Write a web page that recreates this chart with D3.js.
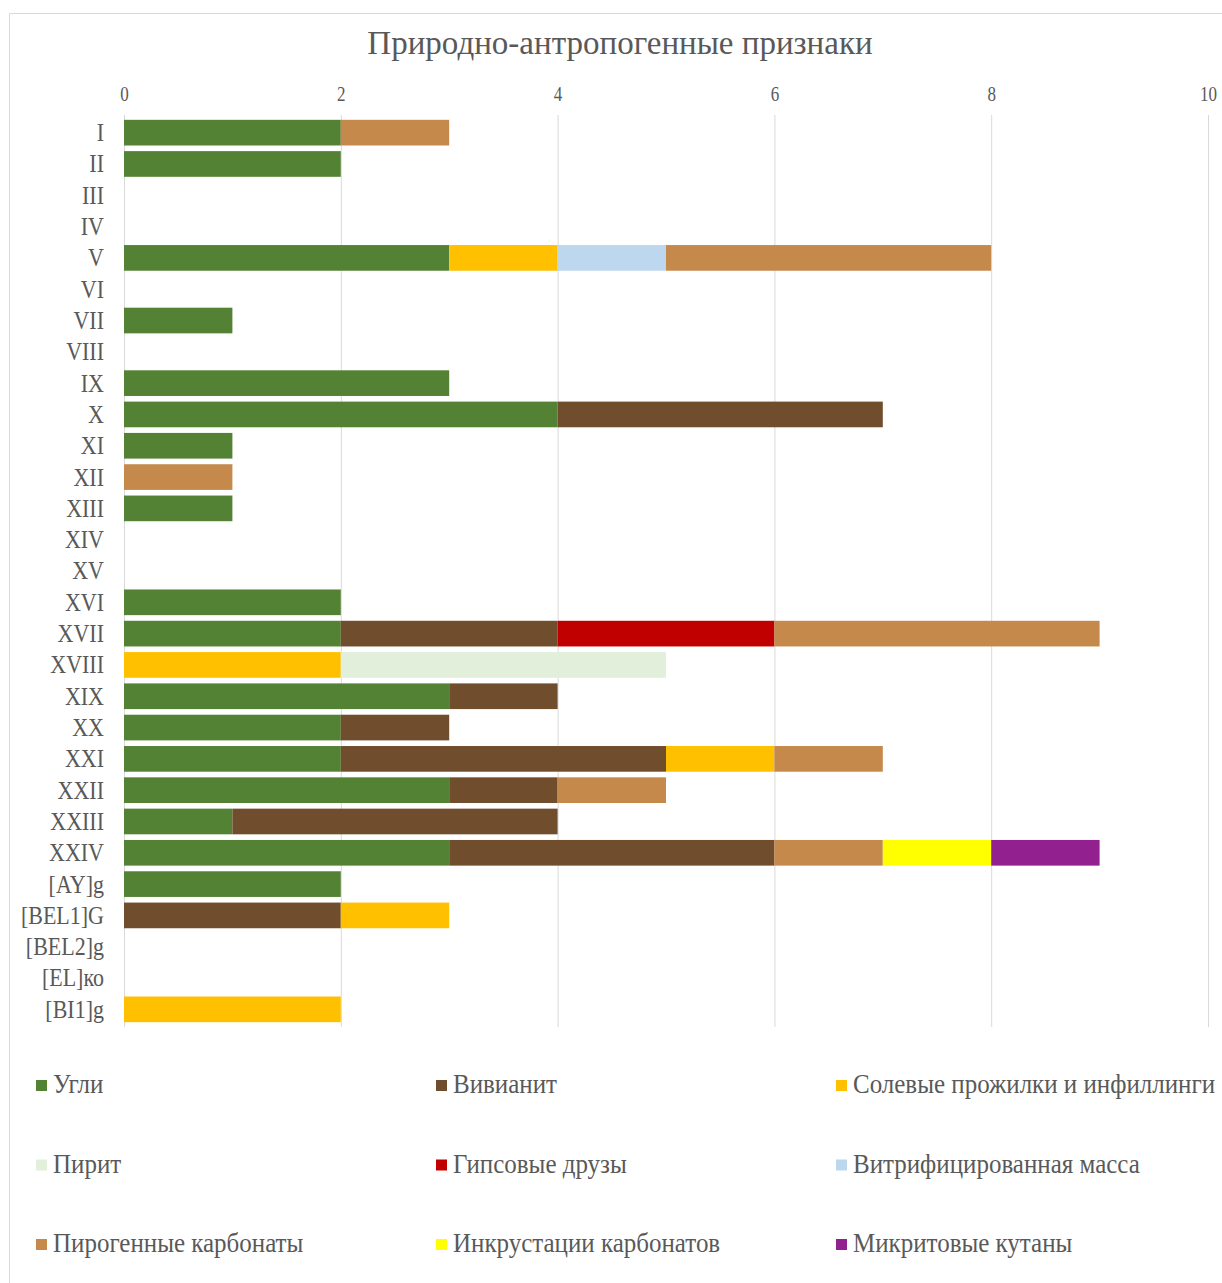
<!DOCTYPE html>
<html>
<head>
<meta charset="utf-8">
<script src="https://cdn.jsdelivr.net/npm/d3@7"></script>
<style>
  body { margin: 0; background: #fff; }
  text { font-family: "Liberation Serif", "Times New Roman", serif; fill: #595959; }
</style>
</head>
<body>
<svg width="1222" height="1283"></svg>
<script>
// horizons, top to bottom
var horizons = ["I","II","III","IV","V","VI","VII","VIII","IX","X","XI","XII","XIII","XIV","XV",
  "XVI","XVII","XVIII","XIX","XX","XXI","XXII","XXIII","XXIV","[AY]g","[BEL1]G","[BEL2]g","[EL]ко","[BI1]g"];

var features = ["Угли","Вивианит","Солевые прожилки и инфиллинги","Пирит","Гипсовые друзы",
  "Витрифицированная масса","Пирогенные карбонаты","Инкрустации карбонатов","Микритовые кутаны"];

var colors = ["#548235","#704d2c","#ffc000","#e2efda","#c00000","#bdd7ee","#c5894c","#ffff00","#92208f"];

// one array per feature, values in horizon order
var ugli       = [2,2,0,0,3,0,1,0,3,4,1,0,1,0,0,2,2,0,3,2,2,3,1,3,2,0,0,0,0];
var vivianit   = [0,0,0,0,0,0,0,0,0,3,0,0,0,0,0,0,2,0,1,1,3,1,3,3,0,2,0,0,0];
var solevye    = [0,0,0,0,1,0,0,0,0,0,0,0,0,0,0,0,0,2,0,0,1,0,0,0,0,1,0,0,2];
var pirit      = [0,0,0,0,0,0,0,0,0,0,0,0,0,0,0,0,0,3,0,0,0,0,0,0,0,0,0,0,0];
var gips       = [0,0,0,0,0,0,0,0,0,0,0,0,0,0,0,0,2,0,0,0,0,0,0,0,0,0,0,0,0];
var vitrif     = [0,0,0,0,1,0,0,0,0,0,0,0,0,0,0,0,0,0,0,0,0,0,0,0,0,0,0,0,0];
var pirogen    = [1,0,0,0,3,0,0,0,0,0,0,1,0,0,0,0,3,0,0,0,1,1,0,1,0,0,0,0,0];
var inkrust    = [0,0,0,0,0,0,0,0,0,0,0,0,0,0,0,0,0,0,0,0,0,0,0,1,0,0,0,0,0];
var mikrit     = [0,0,0,0,0,0,0,0,0,0,0,0,0,0,0,0,0,0,0,0,0,0,0,1,0,0,0,0,0];

var xTicks = [0,2,4,6,8,10];

var series_vals = [ugli, vivianit, solevye, pirit, gips, vitrif, pirogen, inkrust, mikrit];

var rows = horizons.map(function(h, i){
  var r = {horizon: h};
  features.forEach(function(f, j){ r[f] = series_vals[j][i]; });
  return r;
});

var svg = d3.select("svg");

// chart frame (right edge is cut off in the original)
svg.append("path")
  .attr("d", "M9.5,1283 V13.5 H1222")
  .attr("fill", "none")
  .attr("stroke", "#d9d9d9");

svg.append("text")
  .attr("x", 620).attr("y", 54)
  .attr("text-anchor", "middle")
  .style("font-size", "33px")
  .text("Природно-антропогенные признаки");

var x = d3.scaleLinear().domain([0, 10]).range([124, 1208]);
var y = d3.scaleBand().domain(horizons).range([117, 1025]).paddingInner(0.18).paddingOuter(0.09);

// gridlines
svg.append("g").selectAll("line")
  .data(xTicks)
  .join("line")
  .attr("x1", function(d){ return x(d) + 0.5 })
  .attr("x2", function(d){ return x(d) + 0.5 })
  .attr("y1", 115).attr("y2", 1027)
  .attr("stroke", "#d9d9d9");

// top axis, labels only (the source text looks a bit stretched vertically)
var xa = svg.append("g")
  .attr("transform", "translate(0,101)")
  .call(d3.axisTop(x).tickValues(xTicks).tickSize(0).tickPadding(0));
xa.select(".domain").remove();
xa.selectAll("text")
  .attr("y", 0).attr("dy", 0)
  .attr("transform", "scale(1,1.25)")
  .style("font-size", "17px").attr("fill", "#595959");

var stack = d3.stack().keys(features)(rows);

svg.append("g").selectAll("g")
  .data(stack)
  .join("g")
  .attr("fill", function(d, i){ return colors[i] })
  .selectAll("rect")
  .data(function(d){ return d.filter(function(p){ return p[1] > p[0] }) })
  .join("rect")
  .attr("x", function(p){ return x(p[0]) })
  .attr("width", function(p){ return x(p[1]) - x(p[0]) })
  .attr("y", function(p){ return y(p.data.horizon) })
  .attr("height", y.bandwidth());

// category axis
var ya = svg.append("g")
  .attr("transform", "translate(104,0)")
  .call(d3.axisLeft(y).tickSize(0).tickPadding(0));
ya.select(".domain").remove();
ya.selectAll("text")
  .attr("transform", "scale(1,1.16)")
  .attr("dy", "0.33em")
  .style("font-size", "22px").attr("fill", "#595959");

// legend, 3 columns
var legend = svg.append("g").selectAll("g")
  .data(features)
  .join("g")
  .attr("transform", function(d, i){
    return "translate(" + (36 + (i % 3) * 400) + "," + (1086 + Math.floor(i / 3) * 79.5) + ")";
  });

legend.append("rect")
  .attr("x", 0).attr("y", -6)
  .attr("width", 11).attr("height", 11)
  .attr("fill", function(d, i){ return colors[i] });

legend.append("text")
  .attr("x", 17).attr("y", 0)
  .attr("transform", "translate(0,7) scale(1,1.08)")
  .style("font-size", "25px")
  .text(function(d){ return d });
</script>
</body>
</html>
